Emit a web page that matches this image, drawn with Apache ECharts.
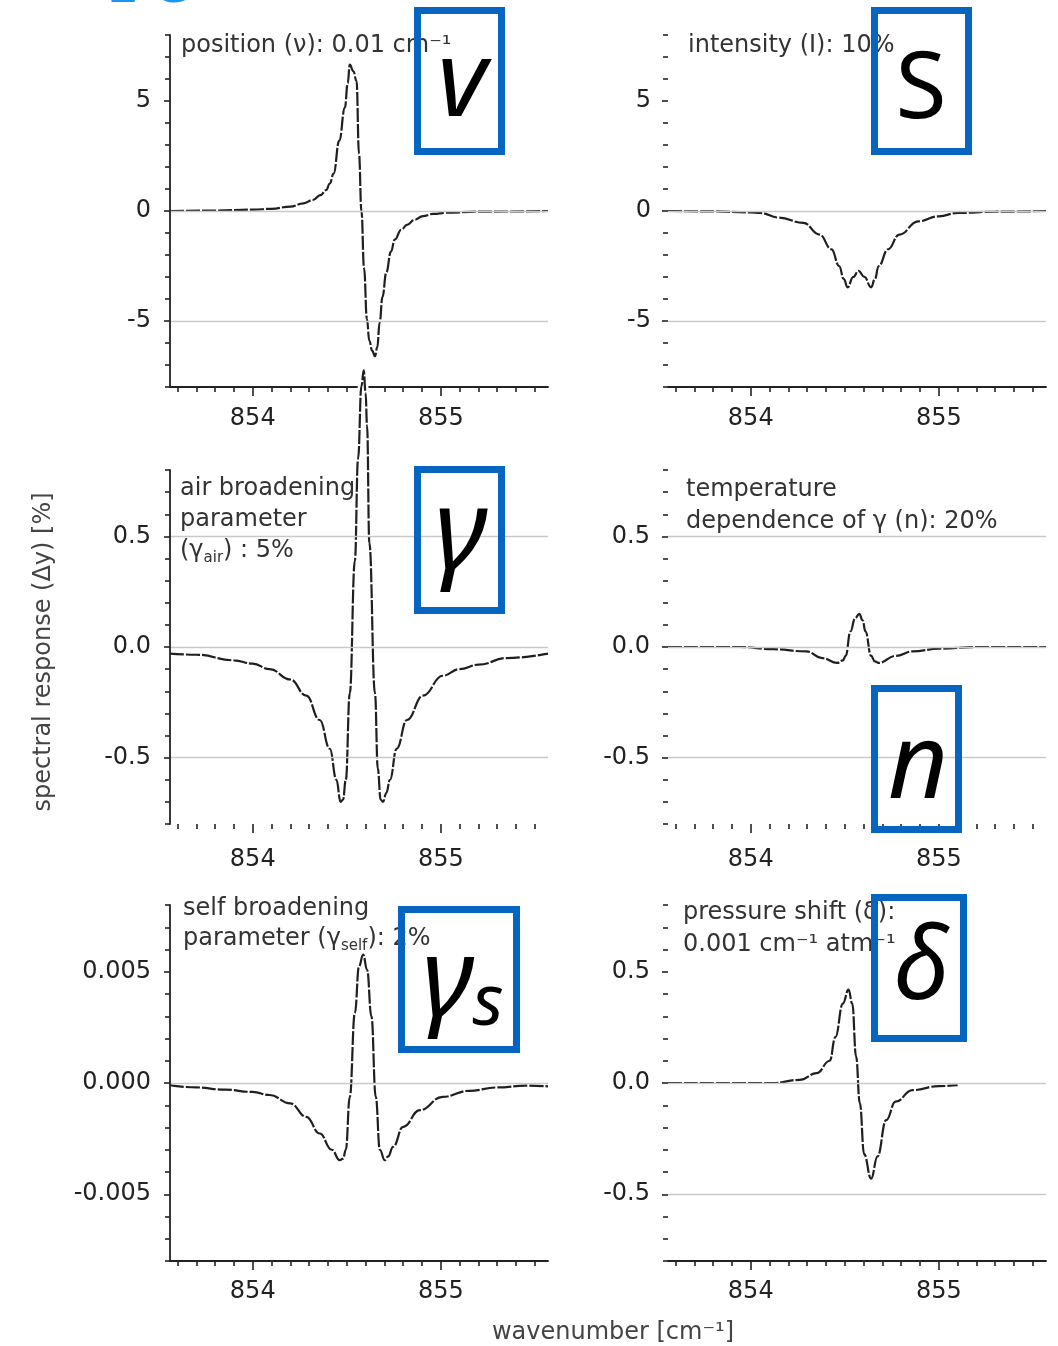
<!DOCTYPE html>
<html>
<head>
<meta charset="utf-8">
<script src="https://cdn.jsdelivr.net/npm/echarts@6/dist/echarts.min.js"></script>
<style>
  html, body { margin: 0; padding: 0; background: #fff; }
  #chart { width: 1058px; height: 1346px; }
</style>
</head>
<body>
<div id="chart"></div>
<script>
// ---- axes: wavenumber (cm^-1) and spectral response (%) ----
const wnRange = [853.56, 855.57];
const wnMajorTicks = [854, 855];
const wnMinorTicks = [853.6, 853.7, 853.8, 853.9, 854.1, 854.2, 854.3, 854.4, 854.5,
                      854.6, 854.7, 854.8, 854.9, 855.1, 855.2, 855.3, 855.4, 855.5];

const unitRange = [-8, 8];
const unitMajorTicks = [-5, 0, 5];
const unitMinorTicks = [-8, -7, -6, -4, -3, -2, -1, 1, 2, 3, 4, 6, 7, 8];
const unitGridLines = [0, -5];

const tenthRange = [-0.8, 0.8];
const tenthMajorTicks = [-0.5, 0, 0.5];
const tenthMinorTicks = [-0.8, -0.7, -0.6, -0.4, -0.3, -0.2, -0.1, 0.1, 0.2, 0.3, 0.4, 0.6, 0.7, 0.8];
const tenthGridLines = [0.5, 0, -0.5];
const shiftGridLines = [0, -0.5];

const milliRange = [-0.008, 0.008];
const milliMajorTicks = [-0.005, 0, 0.005];
const milliMinorTicks = [-0.008, -0.007, -0.006, -0.004, -0.003, -0.002, -0.001,
                         0.001, 0.002, 0.003, 0.004, 0.006, 0.007, 0.008];
const milliGridLines = [0, -0.005];

// ---- spectral response curves: [wavenumber, Δy %] ----
const positionCurve = [
  [853.56, 0.00], [853.80, 0.02], [854.00, 0.06], [854.10, 0.10], [854.20, 0.20],
  [854.27, 0.35], [854.32, 0.50], [854.36, 0.72], [854.39, 0.95], [854.41, 1.25],
  [854.43, 1.70], [854.46, 3.20], [854.49, 4.70], [854.505, 5.80], [854.516, 6.65],
  [854.535, 6.35], [854.552, 5.90], [854.565, 2.60], [854.578, 0.00], [854.592, -2.60],
  [854.607, -4.90], [854.62, -5.90], [854.635, -6.35], [854.65, -6.60], [854.662, -6.20],
  [854.675, -5.05], [854.69, -3.90], [854.71, -2.80], [854.735, -1.85], [854.755, -1.30],
  [854.79, -0.85], [854.82, -0.63], [854.86, -0.40], [854.905, -0.23], [854.96, -0.13],
  [855.03, -0.08], [855.20, -0.03], [855.57, 0.00]
];

const intensityCurve = [
  [853.56, 0.00], [853.80, -0.02], [854.00, -0.06], [854.05, -0.09], [854.15, -0.30],
  [854.28, -0.54], [854.365, -1.07], [854.43, -1.74], [854.47, -2.50], [854.495, -3.10],
  [854.515, -3.47], [854.545, -3.00], [854.573, -2.72], [854.605, -3.00], [854.64, -3.47],
  [854.66, -3.10], [854.68, -2.50], [854.73, -1.74], [854.79, -1.07], [854.89, -0.47],
  [855.00, -0.24], [855.10, -0.09], [855.30, -0.03], [855.57, 0.00]
];

const airBroadeningCurve = [
  [853.56, -0.03], [853.70, -0.035], [853.90, -0.06], [854.00, -0.075], [854.09, -0.10],
  [854.20, -0.147], [854.285, -0.22], [854.356, -0.33], [854.41, -0.46], [854.445, -0.60],
  [854.467, -0.70], [854.48, -0.69], [854.495, -0.60], [854.516, -0.21], [854.543, 0.39],
  [854.56, 0.85], [854.578, 1.18], [854.59, 1.25], [854.60, 1.15], [854.608, 1.00],
  [854.62, 0.47], [854.65, -0.21], [854.665, -0.55], [854.68, -0.69], [854.693, -0.70],
  [854.71, -0.66], [854.73, -0.60], [854.765, -0.46], [854.82, -0.33], [854.905, -0.22],
  [855.01, -0.13], [855.10, -0.10], [855.20, -0.08], [855.35, -0.05], [855.57, -0.03]
];

const tempDependenceCurve = [
  [853.56, 0.00], [853.94, 0.00], [854.12, -0.01], [854.295, -0.02], [854.38, -0.05],
  [854.46, -0.072], [854.49, -0.06], [854.505, -0.04], [854.53, 0.07], [854.555, 0.13],
  [854.577, 0.15], [854.595, 0.12], [854.61, 0.07], [854.64, -0.04], [854.66, -0.065],
  [854.68, -0.072], [854.77, -0.04], [854.86, -0.02], [855.00, -0.008], [855.20, 0.00],
  [855.57, 0.00]
];

const selfBroadeningCurve = [
  [853.56, -0.0001], [853.70, -0.0002], [853.85, -0.0003], [854.00, -0.0004], [854.09, -0.00054],
  [854.20, -0.00092], [854.285, -0.00152], [854.356, -0.00227], [854.42, -0.0030], [854.463, -0.00347],
  [854.48, -0.0034], [854.495, -0.0030], [854.516, -0.00062], [854.543, 0.00314], [854.565, 0.00524],
  [854.587, 0.00577], [854.608, 0.00509], [854.631, 0.00299], [854.654, -0.00062], [854.676, -0.0030],
  [854.702, -0.00347], [854.72, -0.0033], [854.746, -0.00287], [854.80, -0.00197], [854.888, -0.00122],
  [855.01, -0.00062], [855.15, -0.00035], [855.30, -0.0002], [855.45, -0.00012], [855.57, -0.00015]
];

const pressureShiftCurve = [
  [853.56, 0.00], [854.12, 0.00], [854.26, 0.014], [854.35, 0.044], [854.42, 0.10],
  [854.45, 0.206], [854.49, 0.357], [854.52, 0.42], [854.54, 0.357], [854.56, 0.12],
  [854.58, -0.09], [854.603, -0.32], [854.64, -0.43], [854.674, -0.33], [854.72, -0.167],
  [854.77, -0.084], [854.86, -0.032], [855.00, -0.014], [855.10, -0.01]
];

// ---- layout of the six panels ----
const FONT = '"DejaVu Sans", "Liberation Sans", sans-serif';
const INK = '#222';
const fmtInt = v => String(v);
const fmtTenth = v => v.toFixed(1);
const fmtMilli = v => v.toFixed(3);

const panels = [
  { left: 170, top: 35, height: 352, curve: positionCurve, yRange: unitRange, yMajor: unitMajorTicks,
    yMinor: unitMinorTicks, gridLines: unitGridLines, fmt: fmtInt, yLine: true, xLine: true, xMargin: 20, yMargin: 19 },
  { left: 668, top: 35, height: 352, curve: intensityCurve, yRange: unitRange, yMajor: unitMajorTicks,
    yMinor: unitMinorTicks, gridLines: unitGridLines, fmt: fmtInt, yLine: false, xLine: true, xMargin: 20, yMargin: 17 },
  { left: 170, top: 470, height: 354, curve: airBroadeningCurve, yRange: tenthRange, yMajor: tenthMajorTicks,
    yMinor: tenthMinorTicks, gridLines: tenthGridLines, fmt: fmtTenth, yLine: true, xLine: false, xMargin: 24, yMargin: 19, noClip: true },
  { left: 668, top: 470, height: 354, curve: tempDependenceCurve, yRange: tenthRange, yMajor: tenthMajorTicks,
    yMinor: tenthMinorTicks, gridLines: tenthGridLines, fmt: fmtTenth, yLine: false, xLine: false, xMargin: 24, yMargin: 18 },
  { left: 170, top: 905, height: 356, curve: selfBroadeningCurve, yRange: milliRange, yMajor: milliMajorTicks,
    yMinor: milliMinorTicks, gridLines: milliGridLines, fmt: fmtMilli, yLine: true, xLine: true, xMargin: 19, yMargin: 19 },
  { left: 668, top: 905, height: 356, curve: pressureShiftCurve, yRange: tenthRange, yMajor: tenthMajorTicks,
    yMinor: tenthMinorTicks, gridLines: shiftGridLines, fmt: fmtTenth, yLine: false, xLine: true, xMargin: 19, yMargin: 18 }
];

const grid = [], xAxis = [], yAxis = [], series = [];

panels.forEach((p, i) => {
  grid.push({ left: p.left, top: p.top, width: 378, height: p.height, containLabel: false });

  const lineStyle = { color: INK, width: 1.8 };
  // wavenumber axis: major ticks with labels, then a second axis carrying minor ticks
  xAxis.push({
    type: 'value', gridIndex: i, min: wnRange[0], max: wnRange[1], position: 'bottom',
    axisLine: { show: p.xLine, onZero: false, lineStyle },
    axisTick: { show: true, customValues: wnMajorTicks, length: 9, lineStyle: { color: INK, width: 1.6 } },
    axisLabel: { customValues: wnMajorTicks, margin: p.xMargin, fontSize: 24, fontFamily: FONT, color: INK },
    splitLine: { show: false }
  });
  xAxis.push({
    type: 'value', gridIndex: i, min: wnRange[0], max: wnRange[1], position: 'bottom',
    axisLine: { show: false, onZero: false },
    axisTick: { show: true, customValues: wnMinorTicks, length: 5, lineStyle: { color: INK, width: 1.6 } },
    axisLabel: { show: false },
    splitLine: { show: false }
  });
  // response axis
  yAxis.push({
    type: 'value', gridIndex: i, min: p.yRange[0], max: p.yRange[1], position: 'left', z: 5,
    axisLine: { show: p.yLine, onZero: false, lineStyle },
    axisTick: { show: true, customValues: p.yMajor, length: 6, lineStyle: { color: INK, width: 1.6 } },
    axisLabel: { customValues: p.yMajor, margin: p.yMargin, fontSize: 24, fontFamily: FONT, color: INK,
                 formatter: p.fmt },
    splitLine: { show: false }
  });
  yAxis.push({
    type: 'value', gridIndex: i, min: p.yRange[0], max: p.yRange[1], position: 'left', z: 5,
    axisLine: { show: false, onZero: false },
    axisTick: { show: true, customValues: p.yMinor, length: 5, lineStyle: { color: INK, width: 1.6 } },
    axisLabel: { show: false },
    splitLine: { show: false }
  });

  const xi = 2 * i, yi = 2 * i;
  // light reference lines
  series.push({
    type: 'line', xAxisIndex: xi, yAxisIndex: yi, data: p.curve, showSymbol: false, symbol: 'none',
    silent: true, z: 1, lineStyle: { opacity: 0 },
    markLine: {
      silent: true, symbol: 'none', animation: false, label: { show: false },
      lineStyle: { color: '#c9c9c9', width: 1.3, type: 'solid' },
      data: p.gridLines.map(v => ({ yAxis: v }))
    }
  });
  // white halo under each curve
  series.push({
    type: 'line', xAxisIndex: xi, yAxisIndex: yi, data: p.curve, showSymbol: false, symbol: 'none',
    silent: true, z: 3, clip: !p.noClip, smooth: 0.45, smoothMonotone: 'x',
    lineStyle: { color: '#fff', width: 7 }
  });
  // the curve itself
  series.push({
    type: 'line', xAxisIndex: xi, yAxisIndex: yi, data: p.curve, showSymbol: false, symbol: 'none',
    silent: true, z: 4, clip: !p.noClip, smooth: 0.45, smoothMonotone: 'x',
    lineStyle: { color: '#1f1f1f', width: 2.2, type: [14, 2] }
  });
});

// ---- panel captions ----
const captionStyle = (text, lineHeight) => ({
  text, font: '24px ' + FONT, fill: '#333', lineHeight, align: 'left', verticalAlign: 'top',
  rich: {
    sub: { fontSize: 15, fontFamily: FONT, fill: '#333', lineHeight: 12, verticalAlign: 'bottom' }
  }
});

const captions = [
  { x: 181, y: 31, style: captionStyle('position (ν): 0.01 cm⁻¹', 30) },
  { x: 688, y: 31, style: captionStyle('intensity (I): 10%', 30) },
  { x: 180, y: 473, style: captionStyle('air broadening\nparameter\n(γ{sub|air}) : 5%', 31) },
  { x: 686, y: 474, style: captionStyle('temperature\ndependence of γ (n): 20%', 32) },
  { x: 183, y: 894, style: captionStyle('self broadening\nparameter (γ{sub|self}): 2%', 30) },
  { x: 683, y: 897, style: captionStyle('pressure shift (δ):\n0.001 cm⁻¹ atm⁻¹', 32) }
];

const graphic = [];
captions.forEach(c => graphic.push({ type: 'text', x: c.x, y: c.y, z: 1, silent: true, style: c.style }));

// axis titles
graphic.push({
  type: 'text', x: 44, y: 652, rotation: Math.PI / 2, z: 1, silent: true,
  style: { text: 'spectral response (Δy) [%]', font: '24px ' + FONT, fill: '#444',
           align: 'center', verticalAlign: 'middle' }
});
graphic.push({
  type: 'text', x: 613, y: 1333, z: 1, silent: true,
  style: { text: 'wavenumber [cm⁻¹]', font: '24px ' + FONT, fill: '#444',
           align: 'center', verticalAlign: 'middle' }
});

// heading fragment at the top edge
graphic.push({
  type: 'text', x: 108, y: -9, z: 1, silent: true,
  style: { text: '2 G', font: 'bold 44px ' + FONT, fill: '#1796f5', align: 'left', verticalAlign: 'middle' }
});

// parameter symbols in framed boxes
const BLUE = '#0565c0';
const SYM = '"Noto Sans", "DejaVu Sans", sans-serif';
const boxes = [
  { x: 417.5, y: 10.5, w: 84, h: 141 },
  { x: 874.5, y: 10.5, w: 94, h: 141 },
  { x: 417.5, y: 469.5, w: 84, h: 141 },
  { x: 874.5, y: 688.5, w: 84, h: 141 },
  { x: 401.5, y: 909.5, w: 115, h: 140 },
  { x: 874.5, y: 897.5, w: 89, h: 141 }
];
boxes.forEach(b => graphic.push({
  type: 'rect', z: 100, silent: true,
  shape: { x: b.x, y: b.y, width: b.w, height: b.h },
  style: { fill: 'none', stroke: BLUE, lineWidth: 7 }
}));

// y is the vertical middle of each glyph line
const symbols = [
  { x: 462, y: 86, text: 'v', font: 'italic 106px ' + SYM },
  { x: 921, y: 91, text: 'S', font: '93px ' + SYM },
  { x: 461, y: 537, text: 'γ', font: 'italic 112px ' + SYM },
  { x: 918, y: 768, text: 'n', font: 'italic 104px ' + SYM },
  { x: 448, y: 985, text: 'γ', font: 'italic 110px ' + SYM },
  { x: 488, y: 1004, text: 's', font: 'italic 72px ' + SYM },
  { x: 921, y: 971, text: 'δ', font: 'italic 100px ' + SYM }
];
symbols.forEach(s => graphic.push({
  type: 'text', x: s.x, y: s.y, z: 101, silent: true,
  style: { text: s.text, font: s.font, fill: '#000', align: 'center', verticalAlign: 'middle' }
}));

const chart = echarts.init(document.getElementById('chart'), null, { renderer: 'canvas' });
chart.setOption({
  animation: false,
  backgroundColor: '#fff',
  grid, xAxis, yAxis, series, graphic
});
</script>
</body>
</html>
